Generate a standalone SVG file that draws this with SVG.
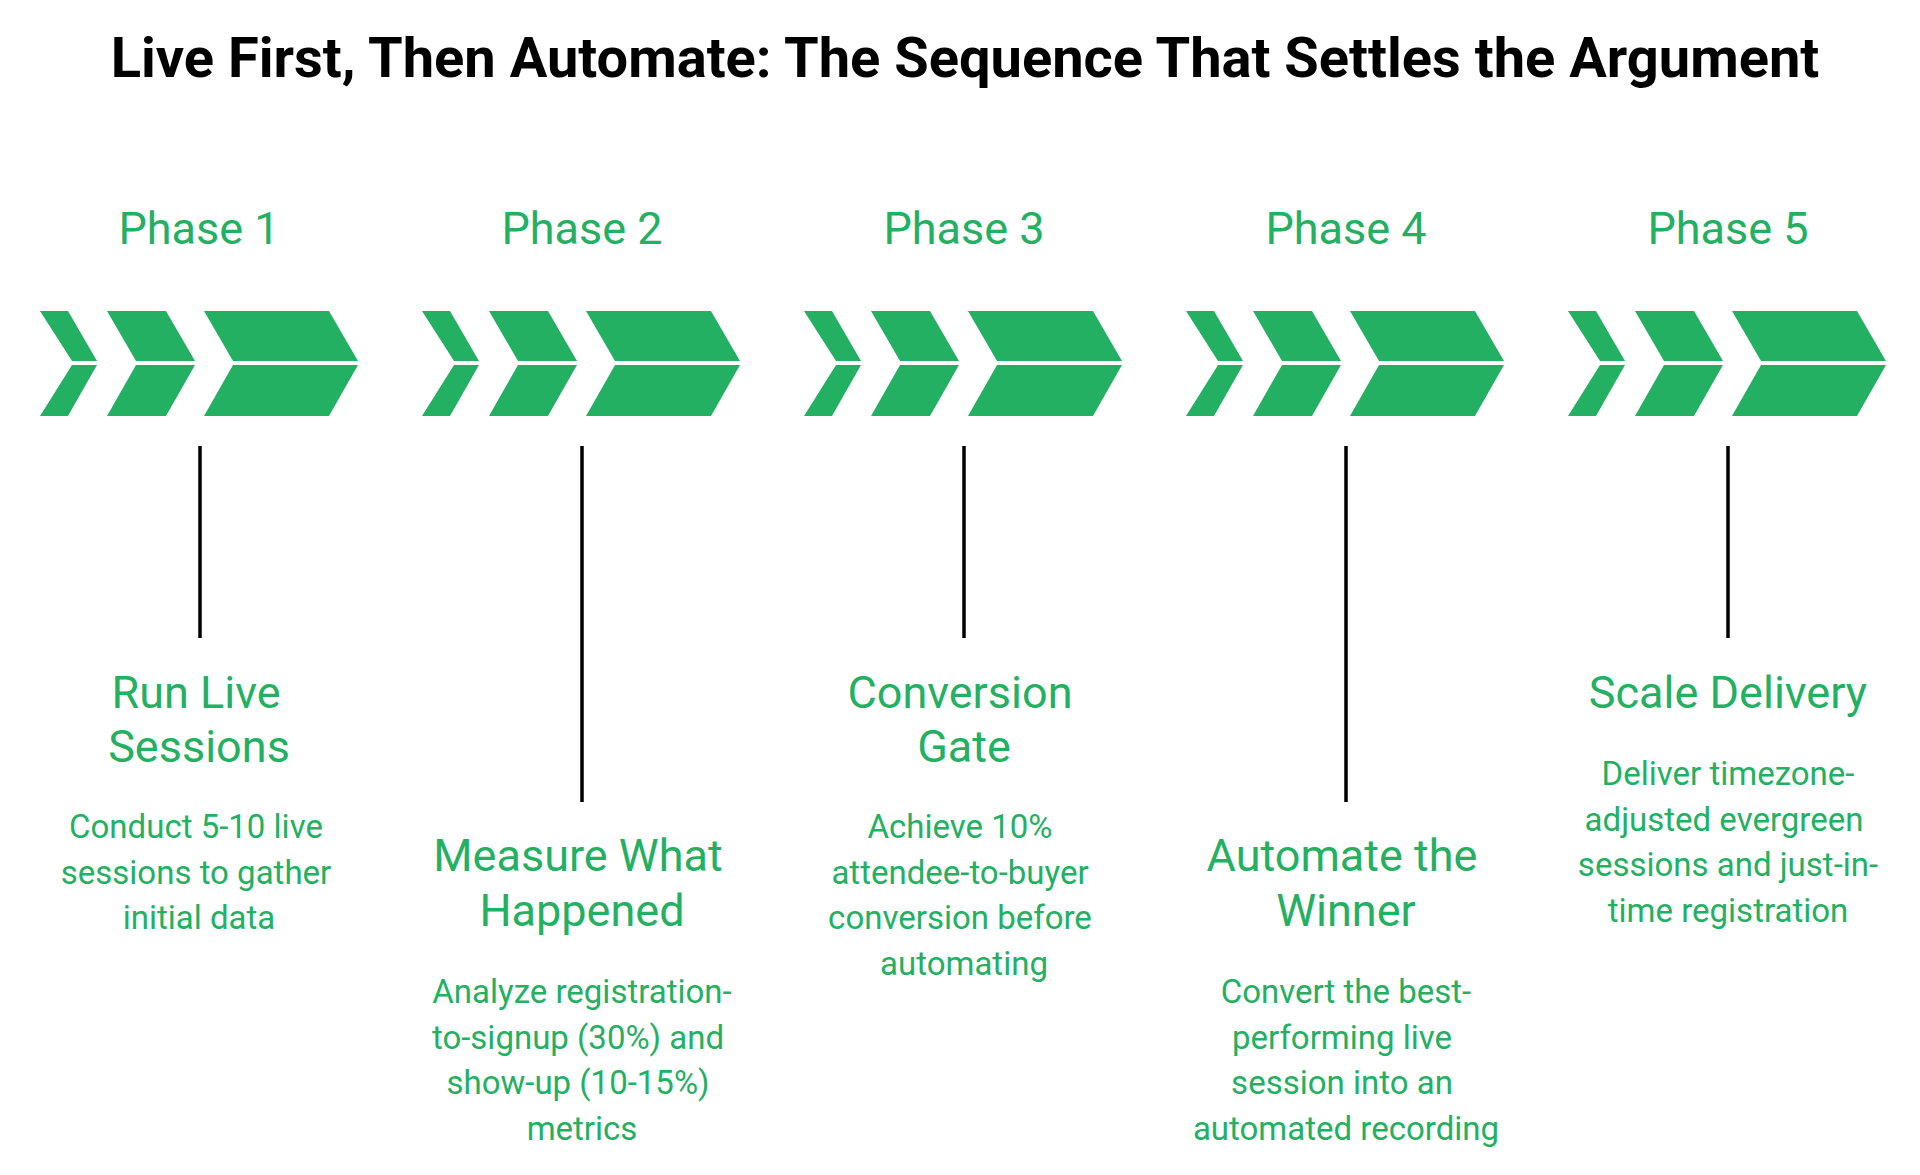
<svg xmlns="http://www.w3.org/2000/svg" width="1920" height="1175" viewBox="0 0 1920 1175">
<style>
.t{font-family:Roboto,"Liberation Sans",sans-serif;text-anchor:middle}
.title{font-size:56px;font-weight:bold;fill:#000}
.ph{font-size:45px;fill:#23b062}
.hd{font-size:45px;fill:#23b062}
.ds{font-size:33px;fill:#23b062}
.ch{fill:#23b062}
.ln{stroke:#000;stroke-width:3.5}
</style>
<defs>
<g id="chev" class="ch">
<polygon points="40,311 68,311 97,361 72,361"/>
<polygon points="72,365 97,365 68,416 40,416"/>
<polygon points="107,311 166,311 195,361 136,361"/>
<polygon points="136,365 195,365 166,416 107,416"/>
<polygon points="204,311 329,311 358,361 233,361"/>
<polygon points="233,365 358,365 329,416 204,416"/>
</g>
</defs>
<text class="t title" x="965" y="77">Live First, Then Automate: The Sequence That Settles the Argument</text>
<g id="connectors">
<line class="ln" x1="200" y1="446" x2="200" y2="638"/>
<line class="ln" x1="582" y1="446" x2="582" y2="802"/>
<line class="ln" x1="964" y1="446" x2="964" y2="638"/>
<line class="ln" x1="1346" y1="446" x2="1346" y2="802"/>
<line class="ln" x1="1728" y1="446" x2="1728" y2="638"/>
</g>
<g id="phase1">
<text class="t ph" x="199" y="244">Phase 1</text>
<use href="#chev"/>
<text class="t hd" x="196" y="708">Run Live</text>
<text class="t hd" x="199" y="762">Sessions</text>
<text class="t ds" x="196" y="838">Conduct 5-10 live</text>
<text class="t ds" x="196" y="884">sessions to gather</text>
<text class="t ds" x="199" y="929">initial data</text>
</g>
<g id="phase2">
<text class="t ph" x="582" y="244">Phase 2</text>
<use href="#chev" x="382"/>
<text class="t hd" x="578" y="871">Measure What</text>
<text class="t hd" x="582" y="926">Happened</text>
<text class="t ds" x="582" y="1003">Analyze registration-</text>
<text class="t ds" x="578" y="1049">to-signup (30%) and</text>
<text class="t ds" x="578" y="1094">show-up (10-15%)</text>
<text class="t ds" x="582" y="1140">metrics</text>
</g>
<g id="phase3">
<text class="t ph" x="964" y="244">Phase 3</text>
<use href="#chev" x="764"/>
<text class="t hd" x="960" y="708">Conversion</text>
<text class="t hd" x="964" y="762">Gate</text>
<text class="t ds" x="960" y="838">Achieve 10%</text>
<text class="t ds" x="960" y="884">attendee-to-buyer</text>
<text class="t ds" x="960" y="929">conversion before</text>
<text class="t ds" x="964" y="975">automating</text>
</g>
<g id="phase4">
<text class="t ph" x="1346" y="244">Phase 4</text>
<use href="#chev" x="1146"/>
<text class="t hd" x="1342" y="871">Automate the</text>
<text class="t hd" x="1346" y="926">Winner</text>
<text class="t ds" x="1346" y="1003">Convert the best-</text>
<text class="t ds" x="1342" y="1049">performing live</text>
<text class="t ds" x="1342" y="1094">session into an</text>
<text class="t ds" x="1346" y="1140">automated recording</text>
</g>
<g id="phase5">
<text class="t ph" x="1728" y="244">Phase 5</text>
<use href="#chev" x="1528"/>
<text class="t hd" x="1728" y="708">Scale Delivery</text>
<text class="t ds" x="1728" y="785">Deliver timezone-</text>
<text class="t ds" x="1724" y="831">adjusted evergreen</text>
<text class="t ds" x="1728" y="876">sessions and just-in-</text>
<text class="t ds" x="1728" y="922">time registration</text>
</g>
</svg>
